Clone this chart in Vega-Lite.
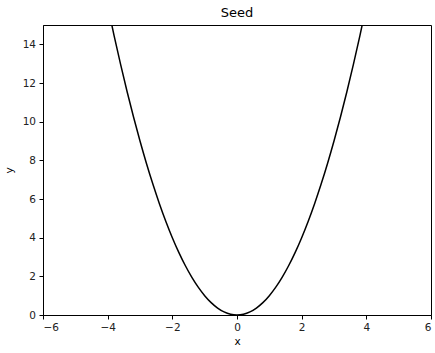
{
  "$schema": "https://vega.github.io/schema/vega-lite/v6.json",
  "autosize": {"type": "none"},
  "width": 388,
  "height": 290,
  "padding": {"left": 43, "top": 25, "right": 4, "bottom": 38},
  "background": "white",
  "title": {"text": "Seed", "fontSize": 13, "font": "DejaVu Sans", "fontWeight": "normal", "color": "#000", "offset": 5},
  "config": {
    "view": {"stroke": "#000", "strokeWidth": 1},
    "axis": {
      "grid": false,
      "domainColor": "#000",
      "domainWidth": 1,
      "tickColor": "#000",
      "tickSize": 4,
      "labelFont": "DejaVu Sans",
      "labelFontSize": 10.5,
      "labelColor": "#222",
      "titleFont": "DejaVu Sans",
      "titleFontSize": 10.5,
      "titleFontWeight": "normal",
      "titleColor": "#000",
      "labelPadding": 3.5
    }
  },
  "data": {
    "values": [
      {"x": -4.0, "y": 16.0}, {"x": -3.8, "y": 14.44}, {"x": -3.6, "y": 12.96},
      {"x": -3.4, "y": 11.56}, {"x": -3.2, "y": 10.24}, {"x": -3.0, "y": 9.0},
      {"x": -2.8, "y": 7.84}, {"x": -2.6, "y": 6.76}, {"x": -2.4, "y": 5.76},
      {"x": -2.2, "y": 4.84}, {"x": -2.0, "y": 4.0}, {"x": -1.8, "y": 3.24},
      {"x": -1.6, "y": 2.56}, {"x": -1.4, "y": 1.96}, {"x": -1.2, "y": 1.44},
      {"x": -1.0, "y": 1.0}, {"x": -0.8, "y": 0.64}, {"x": -0.6, "y": 0.36},
      {"x": -0.4, "y": 0.16}, {"x": -0.2, "y": 0.04}, {"x": 0.0, "y": 0.0},
      {"x": 0.2, "y": 0.04}, {"x": 0.4, "y": 0.16}, {"x": 0.6, "y": 0.36},
      {"x": 0.8, "y": 0.64}, {"x": 1.0, "y": 1.0}, {"x": 1.2, "y": 1.44},
      {"x": 1.4, "y": 1.96}, {"x": 1.6, "y": 2.56}, {"x": 1.8, "y": 3.24},
      {"x": 2.0, "y": 4.0}, {"x": 2.2, "y": 4.84}, {"x": 2.4, "y": 5.76},
      {"x": 2.6, "y": 6.76}, {"x": 2.8, "y": 7.84}, {"x": 3.0, "y": 9.0},
      {"x": 3.2, "y": 10.24}, {"x": 3.4, "y": 11.56}, {"x": 3.6, "y": 12.96},
      {"x": 3.8, "y": 14.44}, {"x": 4.0, "y": 16.0}
    ]
  },
  "mark": {"type": "line", "color": "#000", "strokeWidth": 1.5, "clip": true, "interpolate": "monotone"},
  "encoding": {
    "x": {
      "field": "x", "type": "quantitative",
      "scale": {"domain": [-6, 6], "nice": false, "zero": false},
      "axis": {"values": [-6, -4, -2, 0, 2, 4, 6], "title": "x", "titlePadding": 3}
    },
    "y": {
      "field": "y", "type": "quantitative",
      "scale": {"domain": [0, 15], "nice": false},
      "axis": {"values": [0, 2, 4, 6, 8, 10, 12, 14], "title": "y", "titlePadding": 8}
    }
  }
}
